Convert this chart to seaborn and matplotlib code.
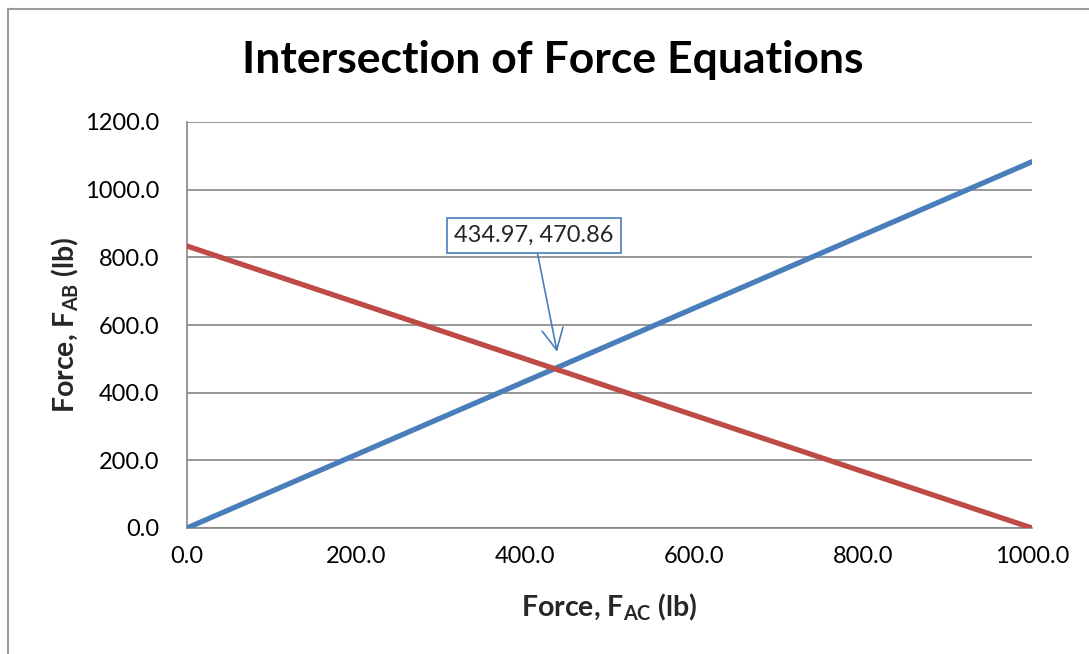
import matplotlib
matplotlib.use("Agg")
import matplotlib.pyplot as plt
import seaborn as sns
import pandas as pd
from matplotlib.lines import Line2D
from matplotlib.ticker import MultipleLocator, FormatStrFormatter

# Data
force_ac = [0.0, 434.97, 1000.0]
force_ab_eq1 = [0.0, 470.86, 1082.5]     # blue
force_ab_eq2 = [833.33, 470.86, 0.0]     # red
intersection = (434.97, 470.86)
intersection_label = "434.97, 470.86"

sns.set_style("white")
plt.rcParams['font.family'] = ['Lato', 'DejaVu Sans']
plt.rcParams['mathtext.fontset'] = 'custom'
plt.rcParams['mathtext.rm'] = 'Lato'
plt.rcParams['mathtext.bf'] = 'Lato:bold'

df = pd.DataFrame({"x": force_ac * 2,
                   "y": force_ab_eq1 + force_ab_eq2,
                   "eq": ["eq1"] * len(force_ac) + ["eq2"] * len(force_ac)})

fig = plt.figure(figsize=(10.89, 6.54), dpi=100)
ax = fig.add_axes([187/1089, 1-528/654, (1032-187)/1089, (528-122)/654])

sns.lineplot(data=df, x="x", y="y", hue="eq", palette={"eq1": "#4A7EBB", "eq2": "#BE4B48"},
             linewidth=3.8, legend=False, ax=ax, zorder=3)

ax.set_xlim(0, 1000)
ax.set_ylim(0, 1200)
ax.xaxis.set_major_locator(MultipleLocator(200))
ax.xaxis.set_minor_locator(MultipleLocator(100))
ax.yaxis.set_major_locator(MultipleLocator(200))
ax.yaxis.set_minor_locator(MultipleLocator(100))
ax.xaxis.set_major_formatter(FormatStrFormatter("%.1f"))
ax.yaxis.set_major_formatter(FormatStrFormatter("%.1f"))

gray = "#868686"
ax.yaxis.grid(True, which="major", color=gray, linewidth=1.2)
ax.xaxis.grid(False)
for s in ["top", "right"]:
    ax.spines[s].set_visible(False)
for s in ["left", "bottom"]:
    ax.spines[s].set_color(gray)
    ax.spines[s].set_linewidth(1.2)

ax.tick_params(axis="both", which="both", direction="out", color=gray, width=1.2,
               labelsize=17, labelcolor="black")
ax.tick_params(axis="both", which="major", length=6)
ax.tick_params(axis="both", which="minor", length=6)
ax.tick_params(axis="x", which="major", pad=7)
ax.tick_params(axis="y", which="major", pad=14)

ax.set_xlabel(r"Force, $\mathbf{F_{AC}}$ (lb)", fontsize=20.5, fontweight="bold", va="center")
ax.set_ylabel(r"Force, $\mathbf{F_{AB}}$ (lb)", fontsize=20.5, fontweight="bold", va="center")
ax.xaxis.set_label_coords((609-187)/845, (528-607)/406)
ax.yaxis.set_label_coords((65-187)/845, 0.5)
fig.suptitle("Intersection of Force Equations", x=553/1089, y=1-60/654, va="center",
             fontsize=32, fontweight="bold", color="black")

ax.annotate(intersection_label, xy=(intersection[0] + 3, intersection[1] + 50),
            xytext=(410.6, 864.5), ha="center", va="center", fontsize=17,
            bbox=dict(boxstyle="square,pad=0.3", fc="white", ec="#4A7EBB", lw=1.2),
            arrowprops=dict(arrowstyle="->,head_length=0.9,head_width=0.45", color="#4A7EBB", lw=1.2,
                            shrinkA=0, shrinkB=0, relpos=(0.5, 0.5)),
            zorder=5)

# chart area border
fig.add_artist(Line2D([8/1089, 8/1089], [0, 1-9/654], color="#9a9a9a", lw=1.5, transform=fig.transFigure))
fig.add_artist(Line2D([8/1089, 1], [1-9/654, 1-9/654], color="#9a9a9a", lw=1.5, transform=fig.transFigure))

fig.savefig("out.png", dpi=100)
